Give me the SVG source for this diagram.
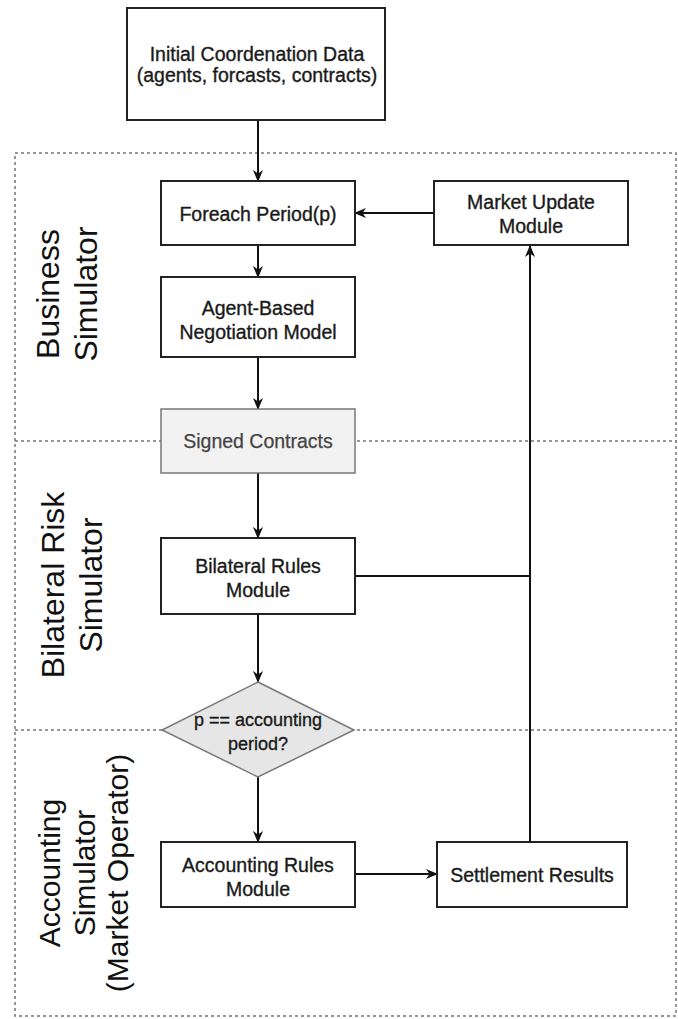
<svg xmlns="http://www.w3.org/2000/svg" width="678" height="1019" viewBox="0 0 678 1019">
<defs>
<style>
.box{fill:#fff;stroke:#222;stroke-width:2}
.soft{fill:#f2f2f2;stroke:#777;stroke-width:1.5}
.dia{fill:#e6e6e6;stroke:#777;stroke-width:1.5}
.t{font-family:"Liberation Sans",Arial,sans-serif;font-size:19.5px;fill:#1a1a1a;stroke:#1a1a1a;stroke-width:0.35;text-anchor:middle}
.tg{font-family:"Liberation Sans",Arial,sans-serif;font-size:19.5px;fill:#444;stroke:#444;stroke-width:0.25;text-anchor:middle}
.lane{font-family:"Liberation Sans",Arial,sans-serif;font-size:32px;fill:#111;text-anchor:middle}
.dash{fill:none;stroke:#777;stroke-width:1.5;stroke-dasharray:3 3}
.c{fill:none;stroke:#111;stroke-width:2}
</style>
<marker id="ah" markerWidth="12" markerHeight="12" viewBox="0 0 12 12" refX="11" refY="6" orient="auto" markerUnits="userSpaceOnUse">
<path d="M0,1 L12,6 L0,11 L3.5,6 z" fill="#111"/>
</marker>
</defs>
<g id="lanes">
<rect class="dash" x="15" y="153" width="661" height="863"/>
<line class="dash" x1="15" y1="441" x2="676" y2="441"/>
<line class="dash" x1="15" y1="730" x2="676" y2="730"/>
<text class="lane" transform="translate(0,294) rotate(-90)"><tspan x="0" y="59">Business</tspan><tspan x="0" y="97">Simulator</tspan></text>
<text class="lane" transform="translate(0,585) rotate(-90)"><tspan x="0" y="64">Bilateral Risk</tspan><tspan x="0" y="102">Simulator</tspan></text>
<text class="lane" style="font-size:30px" transform="translate(0,873) rotate(-90)"><tspan x="0" y="60">Accounting</tspan><tspan x="0" y="95">Simulator</tspan><tspan x="0" y="128">(Market Operator)</tspan></text>
</g>
<g id="connectors">
<line class="c" x1="258" y1="120" x2="258" y2="181" marker-end="url(#ah)"/>
<line class="c" x1="258" y1="245" x2="258" y2="277" marker-end="url(#ah)"/>
<line class="c" x1="258" y1="357" x2="258" y2="409" marker-end="url(#ah)"/>
<line class="c" x1="258" y1="473" x2="258" y2="538" marker-end="url(#ah)"/>
<line class="c" x1="258" y1="614" x2="258" y2="682" marker-end="url(#ah)"/>
<line class="c" x1="258" y1="777" x2="258" y2="842" marker-end="url(#ah)"/>
<line class="c" x1="355" y1="874" x2="437" y2="874" marker-end="url(#ah)"/>
<line class="c" x1="530" y1="842" x2="530" y2="246" marker-end="url(#ah)"/>
<line class="c" x1="355" y1="576" x2="530" y2="576"/>
<line class="c" x1="434" y1="213" x2="355" y2="213" marker-end="url(#ah)"/>
</g>
<g id="initial">
<rect class="box" x="127" y="8" width="258" height="112"/>
<text class="t"><tspan x="257" y="61">Initial Coordenation Data</tspan><tspan x="257" y="82">(agents, forcasts, contracts)</tspan></text>
</g>
<g id="foreach">
<rect class="box" x="161" y="181" width="194" height="64"/>
<text class="t" x="258" y="221">Foreach Period(p)</text>
</g>
<g id="market">
<rect class="box" x="434" y="181" width="194" height="64"/>
<text class="t"><tspan x="531" y="209">Market Update</tspan><tspan x="531" y="233">Module</tspan></text>
</g>
<g id="agent">
<rect class="box" x="161" y="277" width="194" height="80"/>
<text class="t"><tspan x="258" y="315">Agent-Based</tspan><tspan x="258" y="339">Negotiation Model</tspan></text>
</g>
<g id="signed">
<rect class="soft" x="161" y="409" width="194" height="64"/>
<text class="tg" x="258" y="448">Signed Contracts</text>
</g>
<g id="bilateral">
<rect class="box" x="161" y="538" width="194" height="76"/>
<text class="t"><tspan x="258" y="573">Bilateral Rules</tspan><tspan x="258" y="597">Module</tspan></text>
</g>
<g id="decision">
<polygon class="dia" points="258,682 354,730 258,777 162,730"/>
<text class="t" style="font-size:18px"><tspan x="258" y="726">p == accounting</tspan><tspan x="258" y="750">period?</tspan></text>
</g>
<g id="accounting">
<rect class="box" x="161" y="842" width="194" height="65"/>
<text class="t"><tspan x="258" y="872">Accounting Rules</tspan><tspan x="258" y="896">Module</tspan></text>
</g>
<g id="settlement">
<rect class="box" x="437" y="842" width="190" height="65"/>
<text class="t" x="532" y="882">Settlement Results</text>
</g>
</svg>
